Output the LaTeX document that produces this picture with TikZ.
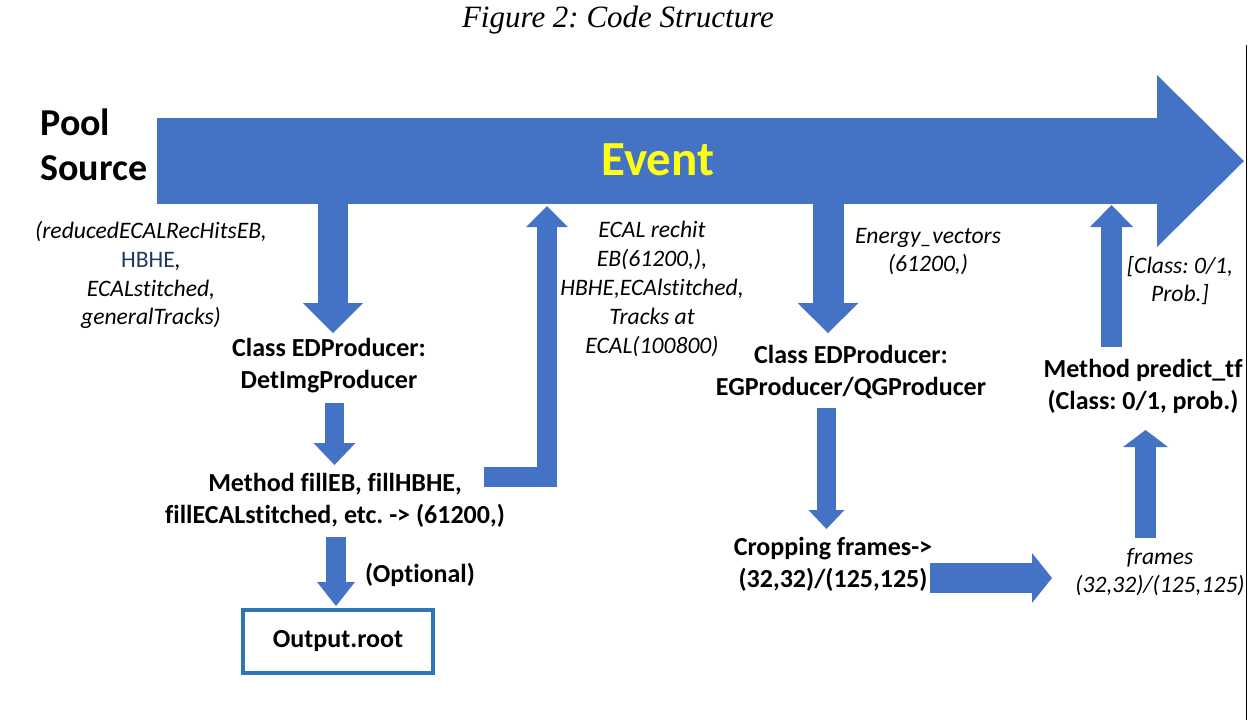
\documentclass[tikz,border=0pt]{standalone}
\usepackage{fontspec}
\setmainfont{Carlito}[Ligatures={NoCommon}]
\newfontfamily\titlefont{Liberation Serif}
\usetikzlibrary{arrows.meta}
\frenchspacing

\definecolor{arrowblue}{RGB}{68,114,196}
\definecolor{boxblue}{RGB}{46,117,182}
\definecolor{eventyellow}{RGB}{255,255,20}
\definecolor{hbheblue}{RGB}{31,56,100}

\tikzset{
  blockarrow/.style n args={3}{draw=arrowblue, line width=#1, line join=miter,
    -{Triangle[width=#2, length=#3, line width=0pt]}},
  boldlabel/.style={font=\bfseries\fontsize{13}{16}\selectfont, align=center, inner sep=0pt},
  itlabel/.style={font=\itshape\fontsize{11.8}{14.4}\selectfont, align=center, inner sep=0pt},
}

\begin{document}
\begin{tikzpicture}[x=0.5pt, y=-0.5pt]
                \useasboundingbox (0,0) rectangle (1248,720);

                % title
                \node[font=\titlefont\itshape\fontsize{15.5}{18}\selectfont, inner sep=0pt] (title) at (618,20) {Figure 2: Code Structure};

                % event stream
                \coordinate (poolL) at (157,161);
                \coordinate (poolR) at (1244,161);
                \draw [blockarrow={43pt}{86pt}{43.5pt}] (poolL) -- (poolR);
                \node[font=\bfseries\fontsize{24.5}{28}\selectfont, text=eventyellow, inner sep=0pt] (event) at (658,160) {Event};
                \node[font=\bfseries\fontsize{19}{22.5}\selectfont, align=left, anchor=west, inner sep=0pt] (pool) at (40,144.5) {Pool\\Source};

                % labels
                \node[itlabel] (inputs) at (151,275) {(reducedECALRecHitsEB,\\{\upshape\color{hbheblue}HBHE},\\ECALstitched,\\generalTracks)};
                \node[boldlabel] (detimg) at (329,365.5) {Class EDProducer:\\DetImgProducer};
                \node[boldlabel] (fill) at (335,500.5) {Method fillEB, fillHBHE,\\fillECALstitched, etc. -> (61200,)};
                \node[boldlabel] (optional) at (420,575) {(Optional)};
                \node[boldlabel, draw=boxblue, line width=2pt, minimum width=95pt, minimum height=31.5pt] (output) at (338,641.5) {Output.root};
                \node[itlabel] (rechit) at (652,289) {ECAL rechit\\EB(61200,),\\HBHE,ECAlstitched,\\Tracks at\\ECAL(100800)};
                \node[itlabel] (energy) at (928,251.5) {Energy\_vectors\\(61200,)};
                \node[boldlabel] (egprod) at (851,371.5) {Class EDProducer:\\EGProducer/QGProducer};
                \node[boldlabel] (crop) at (833,564.5) {Cropping frames->\\(32,32)/(125,125)};
                \node[itlabel] (frames) at (1160,572) {frames\\(32,32)/(125,125)};
                \node[boldlabel] (predict) at (1143,386) {Method predict\_tf\\(Class: 0/1, prob.)};
                \node[itlabel] (result) at (1180,280.5) {[Class: 0/1,\\Prob.]};

                % arrow ends
                \coordinate (a1) at (333,203);
                \coordinate (a2) at (333,333);
                \coordinate (b1) at (484,476.5);
                \coordinate (b2) at (547,476.5);
                \coordinate (b3) at (547,206);
                \coordinate (c1) at (828,203);
                \coordinate (c2) at (828,333);
                \coordinate (d1) at (1111.5,347);
                \coordinate (d2) at (1111.5,205);
                \coordinate (e1) at (334.5,403);
                \coordinate (e2) at (334.5,465);
                \coordinate (f1) at (336,537);
                \coordinate (f2) at (336,606);
                \coordinate (g1) at (826.5,408);
                \coordinate (g2) at (826.5,529);
                \coordinate (h1) at (930,578);
                \coordinate (h2) at (1052,578);
                \coordinate (i1) at (1145.5,538);
                \coordinate (i2) at (1145.5,430);

                \draw [blockarrow={15pt}{30pt}{15pt}] (a1) -- (a2);
                \draw [blockarrow={10pt}{21pt}{10.5pt}] (b1) -- (b2) -- (b3);
                \draw [blockarrow={15.5pt}{30.5pt}{15pt}] (c1) -- (c2);
                \draw [blockarrow={10.5pt}{21.5pt}{11pt}] (d1) -- (d2);
                \draw [blockarrow={9.5pt}{21pt}{11pt}] (e1) -- (e2);
                \draw [blockarrow={10pt}{19pt}{12pt}] (f1) -- (f2);
                \draw [blockarrow={9.5pt}{18pt}{9.5pt}] (g1) -- (g2);
                \draw [blockarrow={15pt}{25pt}{10pt}] (h1) -- (h2);
                \draw [blockarrow={10.5pt}{22.5pt}{8.5pt}] (i1) -- (i2);

                % page edge
                \coordinate (edgeT) at (1246.5,45);
                \coordinate (edgeB) at (1246.5,720);
                \draw [line width=0.5pt] (edgeT) -- (edgeB);
\end{tikzpicture}
\end{document}
